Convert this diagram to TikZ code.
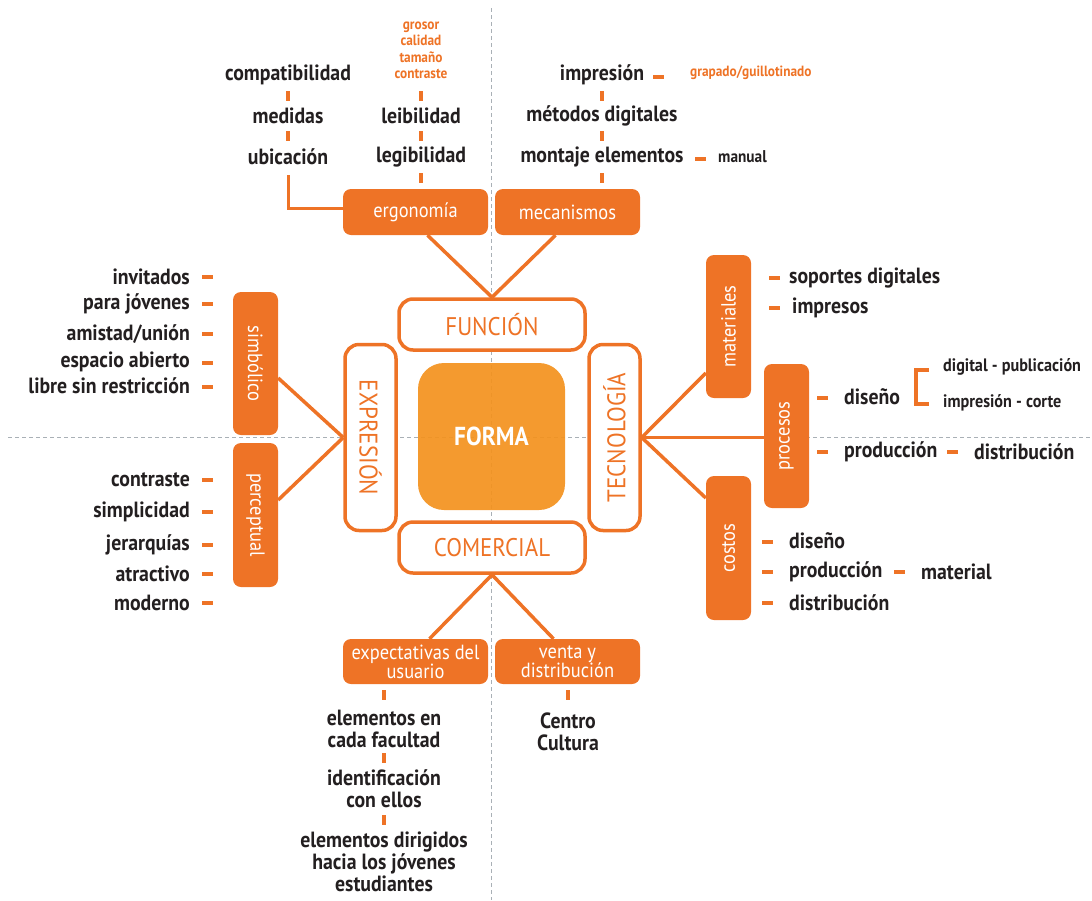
\documentclass[tikz,border=0pt]{standalone}
\usepackage{fontspec}
\usepackage{graphicx}
\setmainfont{PT Sans}[FakeStretch=0.9]
\usepackage{xcolor}
\usepackage{tikz}
\usetikzlibrary{positioning}

\definecolor{naranja}{HTML}{EE7326}
\definecolor{formaor}{HTML}{F3921F}
\definecolor{guia}{HTML}{A9B0B6}
\definecolor{tinta}{HTML}{231F20}

\begin{document}
\begin{tikzpicture}[
    x=1pt, y=-1pt,
    eje/.style={draw=guia, line width=0.9pt, dash pattern=on 4pt off 3pt},
    marco/.style={rectangle, draw=naranja, line width=3.5pt, rounded corners=14pt,
                  fill=white, text=naranja, inner sep=0pt,
                  font=\fontsize{25.5}{25.5}\selectfont},
    nucleo/.style={rectangle, fill=formaor, rounded corners=26pt,
                   fill opacity=0.93, text opacity=1, text=white, inner sep=0pt,
                   font=\bfseries\fontsize{26}{26}\selectfont},
    bloque/.style={rectangle, fill=naranja, rounded corners=8pt, text=white,
                   inner sep=0pt, align=center,
                   font=\fontsize{20.5}{19}\selectfont},
    item/.style={text=tinta, align=center, inner sep=1pt,
                 font=\bfseries\fontsize{22}{22}\selectfont},
    nota/.style={text=naranja, align=center, inner sep=0pt,
                 font=\bfseries\fontsize{14.8}{16.5}\selectfont},
    chico/.style={text=tinta, inner sep=0pt,
                  font=\bfseries\fontsize{17}{17}\selectfont},
    vbar/.style={rectangle, fill=naranja, minimum width=4pt,
                 minimum height=10pt, inner sep=0pt},
    hbar/.style={rectangle, fill=naranja, minimum width=11pt,
                 minimum height=4pt, inner sep=0pt},
    rama/.style={draw=naranja, line width=3.5pt}
]
\useasboundingbox (0,0) rectangle (1092,900);

% ejes
\draw[eje] (491,8) -- (491,900);
\draw[eje] (8,437) -- (1092,437);

% centro
\node[nucleo, minimum width=147pt, minimum height=147pt] (forma) at (491.5,436.5) {FORMA};
\node[marco, minimum width=186pt, minimum height=51pt] (func) at (492,324.5) {FUNCIÓN};
\node[marco, minimum width=186pt, minimum height=51pt] (com) at (492,547.5) {COMERCIAL};
\node[marco, minimum width=51pt, minimum height=186pt] (expr) at (370.5,437.5) {\rotatebox{-90}{EXPRESIÓN}};
\node[marco, minimum width=51pt, minimum height=186pt] (tec) at (614.5,437.5) {\rotatebox{90}{TECNOLOGÍA}};

% funcion
\node[bloque, minimum width=145pt, minimum height=46pt] (ergo) at (415.5,212) {ergonomía};
\node[bloque, minimum width=145pt, minimum height=46pt] (meca) at (567.5,212) {mecanismos};
\draw[rama] (func.north) -- ([xshift=12pt]ergo.south);
\draw[rama] (func.north) -- ([xshift=-12pt]meca.south);

\node[item] (compa) at (288,75) {compatibilidad};
\node[vbar] (b1) at (288,96) {};
\node[item] (medi) at (288,116) {medidas};
\node[vbar] (b2) at (288,136) {};
\node[item] (ubic) at (288,157) {ubicación};
\draw[rama, line width=3pt] ([yshift=-9pt]ubic.south) |- ([yshift=4pt]ergo.west);

\node[nota] (gros) at (421,50.5) {grosor\\calidad\\tamaño\\contraste};
\node[vbar] (b3) at (421,96) {};
\node[item] (leib) at (421,116) {leibilidad};
\node[vbar] (b4) at (421,136) {};
\node[item] (legi) at (421,157) {legibilidad};
\node[vbar] (b5) at (421,178) {};

\node[item] (impr) at (602,75) {impresión};
\node[vbar] (b6) at (602,96) {};
\node[item] (meto) at (602,116) {métodos digitales};
\node[vbar] (b7) at (602,136) {};
\node[item] (mont) at (602,157) {montaje elementos};
\node[vbar] (b8) at (602,178) {};
\node[hbar] (h1) at (658,77) {};
\node[nota, anchor=west] (grap) at (690,73) {grapado/guillotinado};
\node[hbar] (h2) at (700,159) {};
\node[chico, anchor=west] (manu) at (718,157) {manual};

% expresion
\node[bloque, minimum width=45pt, minimum height=143pt] (simb) at (255.5,363.5) {\rotatebox{-90}{simbólico}};
\node[bloque, minimum width=45pt, minimum height=144pt] (perc) at (255.5,515) {\rotatebox{-90}{perceptual}};
\draw[rama] (expr.west) -- ([yshift=-14.5pt]simb.east);
\draw[rama] (expr.west) -- ([yshift=15pt]perc.east);

\node[item, anchor=east] (invi) at (191,277) {invitados};
\node[item, anchor=east] (jove) at (191,304) {para jóvenes};
\node[item, anchor=east] (amis) at (191,334) {amistad/unión};
\node[item, anchor=east] (espa) at (191,362) {espacio abierto};
\node[item, anchor=east] (libr) at (191,386) {libre sin restricción};
\node[item, anchor=east] (cont) at (191,480) {contraste};
\node[item, anchor=east] (simp) at (191,512) {simplicidad};
\node[item, anchor=east] (jera) at (191,545) {jerarquías};
\node[item, anchor=east] (atra) at (191,574) {atractivo};
\node[item, anchor=east] (mode) at (191,603) {moderno};
\foreach \y [count=\i] in {277,304,334,363,387,480,512,545,574,603}
    \node[hbar] (l\i) at (207,\y) {};

% tecnologia
\node[bloque, minimum width=45pt, minimum height=143pt] (mate) at (728.5,326.5) {\rotatebox{90}{materiales}};
\node[bloque, minimum width=45pt, minimum height=144pt] (proc) at (786.5,436) {\rotatebox{90}{procesos}};
\node[bloque, minimum width=45pt, minimum height=144pt] (cost) at (728.5,548) {\rotatebox{90}{costos}};
\draw[rama] (tec.east) -- ([yshift=-46.5pt]mate.west);
\draw[rama] (tec.east) -- (tec.east -| proc.west);
\draw[rama] (tec.east) -- ([yshift=50pt]cost.west);

\node[hbar] (r1) at (774,278) {};
\node[item, anchor=west] (sopo) at (788,278) {soportes digitales};
\node[hbar] (r2) at (774,308) {};
\node[item, anchor=west] (impe) at (791,308) {impresos};

\node[hbar] (r3) at (822,398) {};
\node[item, anchor=west] (dise) at (843,397) {diseño};
\draw[naranja, line width=4.5pt] (929,370) -- (916,370) -- (916,404) -- (929,404);
\node[chico, anchor=west, font=\bfseries\fontsize{18}{18}\selectfont] (digi) at (943,367) {digital - publicación};
\node[chico, anchor=west, font=\bfseries\fontsize{18}{18}\selectfont] (imco) at (943,403) {impresión - corte};
\node[hbar] (r4) at (822,452) {};
\node[item, anchor=west] (prod) at (843,452) {producción};
\node[hbar] (r5) at (952,452) {};
\node[item, anchor=west] (dist) at (973,452) {distribución};

\node[hbar] (c1) at (767,542) {};
\node[item, anchor=west] (cdis) at (788,541) {diseño};
\node[hbar] (c2) at (767,572) {};
\node[item, anchor=west] (cpro) at (788,572) {producción};
\node[hbar] (c3) at (899,572) {};
\node[item, anchor=west] (cmat) at (920,572) {material};
\node[hbar] (c4) at (767,603) {};
\node[item, anchor=west] (cdist) at (788,603) {distribución};

% comercial
\node[bloque, minimum width=145pt, minimum height=45pt] (expe) at (415.5,661.5) {expectativas del\\usuario};
\node[bloque, minimum width=145pt, minimum height=45pt] (vent) at (567.5,661.5) {venta y\\distribución};
\draw[rama] (com.south) -- ([xshift=14pt]expe.north);
\draw[rama] (com.south) -- ([xshift=-14pt]vent.north);

\node[vbar] (b9) at (384,695) {};
\node[item] (elem) at (384,729) {elementos en\\cada facultad};
\node[vbar] (b10) at (384,758) {};
\node[item] (iden) at (384,789) {identificación\\con ellos};
\node[vbar] (b11) at (384,820) {};
\node[item] (diri) at (384,862) {elementos dirigidos\\hacia los jóvenes\\estudiantes};
\node[vbar] (b12) at (568,695) {};
\node[item] (cent) at (568,732) {Centro\\Cultura};
\end{tikzpicture}
\end{document}
